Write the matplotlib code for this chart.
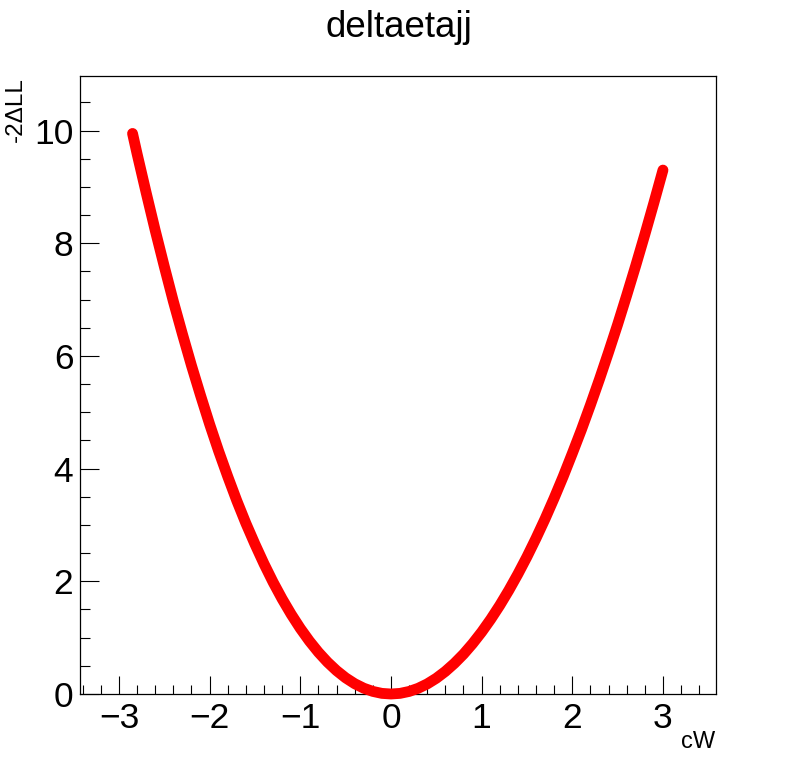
import matplotlib
matplotlib.use("Agg")
import matplotlib.pyplot as plt
from matplotlib.ticker import MultipleLocator

plt.rcParams["font.family"] = ["Liberation Sans", "DejaVu Sans"]

# scan points
cw = [-2.85, -2.8, -2.7, -2.6, -2.5, -2.4, -2.3, -2.2, -2.1, -2.0,
      -1.9, -1.8, -1.7, -1.6, -1.5, -1.4, -1.3, -1.2, -1.1, -1.0,
      -0.9, -0.8, -0.7, -0.6, -0.5, -0.4, -0.3, -0.2, -0.1, 0.0,
      0.1, 0.2, 0.3, 0.4, 0.5, 0.6, 0.7, 0.8, 0.9, 1.0,
      1.1, 1.2, 1.3, 1.4, 1.5, 1.6, 1.7, 1.8, 1.9, 2.0,
      2.1, 2.2, 2.3, 2.4, 2.5, 2.6, 2.7, 2.8, 2.9, 3.0]
nll = [9.95, 9.59, 8.90, 8.23, 7.59, 6.97, 6.39, 5.83, 5.30, 4.79,
       4.31, 3.86, 3.43, 3.03, 2.66, 2.31, 1.985, 1.687, 1.414, 1.165,
       0.941, 0.741, 0.566, 0.415, 0.287, 0.183, 0.103, 0.046, 0.011, 0.0,
       0.011, 0.045, 0.101, 0.179, 0.279, 0.401, 0.544, 0.707, 0.893, 1.099,
       1.326, 1.573, 1.841, 2.129, 2.436, 2.764, 3.110, 3.477, 3.862, 4.27,
       4.688, 5.130, 5.589, 6.067, 6.56, 7.076, 7.606, 8.155, 8.72, 9.30]

title = "deltaetajj"
xlabel = "cW"
ylabel = "-2\u0394LL"

W, H = 796, 772
fig = plt.figure(figsize=(W / 100, H / 100), dpi=100)
ax = fig.add_axes([79.5 / W, 1 - 694 / H, (716 - 79.5) / W, (694 - 76) / H])

ax.plot(cw, nll, color="#ff0000", lw=7.8, solid_capstyle="round",
        solid_joinstyle="round", clip_on=False, zorder=3)

ax.set_xlim(-3.435, 3.585)
ax.set_ylim(0, 10.97)

ax.xaxis.set_major_locator(MultipleLocator(1))
ax.xaxis.set_minor_locator(MultipleLocator(0.2))
ax.yaxis.set_major_locator(MultipleLocator(2))
ax.yaxis.set_minor_locator(MultipleLocator(0.5))

ax.tick_params(which="both", direction="in", top=False, right=False, width=0.8,
               labelsize=25.5)
ax.tick_params(axis="x", which="major", length=13, pad=5.5)
ax.tick_params(axis="x", which="minor", length=6.5)
ax.tick_params(axis="y", which="major", length=14, pad=4.5)
ax.tick_params(axis="y", which="minor", length=7.5)
for s in ax.spines.values():
    s.set_linewidth(0.9)

fig.text(399 / W, 1 - 37 / H, title, ha="center", va="baseline", fontsize=26.5)
fig.text(715 / W, 1 - 748 / H, xlabel, ha="right", va="baseline", fontsize=17)
fig.text(22 / W, 1 - 77 / H, ylabel, ha="right", va="baseline", rotation=90,
         fontsize=17.5, rotation_mode="anchor")

fig.savefig("out.png", dpi=100)
